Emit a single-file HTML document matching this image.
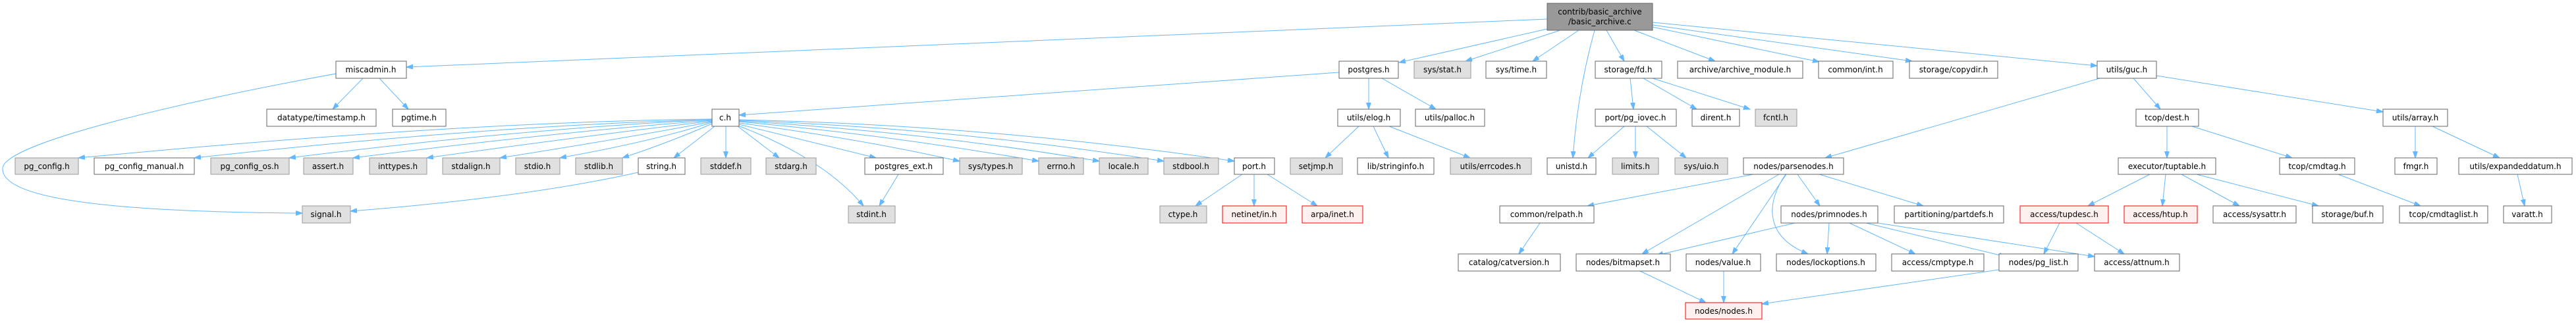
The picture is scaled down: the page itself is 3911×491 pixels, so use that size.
<!DOCTYPE html>
<html><head><meta charset="utf-8">
<style>
html,body{margin:0;padding:0;background:#fff;}
svg{display:block;}
text{font-family:"DejaVu Sans","Liberation Sans",sans-serif;font-size:12px;fill:#000;text-anchor:middle;}
.w{fill:#fff;stroke:#666;stroke-width:1;}
.g{fill:#e0e0e0;stroke:#999;stroke-width:1;}
.r{fill:#fff0f0;stroke:#f00;stroke-width:1;}
.m{fill:#999;stroke:#666;stroke-width:1;}
.e{fill:none;stroke:#63b8ff;stroke-width:1;marker-end:url(#a);}
</style></head><body>
<svg width="3911" height="491" viewBox="0 0 3911 491" xmlns="http://www.w3.org/2000/svg">
<defs><marker id="a" markerUnits="userSpaceOnUse" markerWidth="11" markerHeight="8" refX="10" refY="3.5" orient="auto"><path d="M0,0 L10,3.5 L0,7 z" fill="#63b8ff" stroke="#63b8ff"/></marker></defs>

<!-- edges -->
<path class="e" d="M2349,29 L617,102"/>
<path class="e" d="M2349,44 L2124,95"/>
<path class="e" d="M2372,45 L2225,93"/>
<path class="e" d="M2397,46 L2327,93"/>
<path class="e" d="M2421,46 Q2395,140 2388,240"/>
<path class="e" d="M2439,46 L2466,93"/>
<path class="e" d="M2481,46 L2604,93"/>
<path class="e" d="M2509,41 L2762,94"/>
<path class="e" d="M2509,38 L2903,93"/>
<path class="e" d="M2509,34 L3184,100"/>

<path class="e" d="M551,119 L505,166"/>
<path class="e" d="M576,119 L620,166"/>
<path class="e" d="M510,112 C300,150 10,215 4,255 C0,300 150,322 459,324"/>

<path class="e" d="M2033,110 L1122,175"/>
<path class="e" d="M2078,119 L2078,166"/>
<path class="e" d="M2098,119 L2180,166"/>

<path class="e" d="M1081,181 Q700,185 119,240"/>
<path class="e" d="M1081,182 Q750,190 295,240"/>
<path class="e" d="M1081,182 Q800,195 439,240"/>
<path class="e" d="M1081,183 Q850,200 536,240"/>
<path class="e" d="M1081,184 Q900,205 648,240"/>
<path class="e" d="M1081,185 Q950,210 759,240"/>
<path class="e" d="M1081,186 Q990,215 850,240"/>
<path class="e" d="M1081,188 Q1020,215 945,240"/>
<path class="e" d="M1085,192 L1023,240"/>
<path class="e" d="M1102,192 L1102,240"/>
<path class="e" d="M1120,192 L1183,240"/>
<path class="e" d="M1118,190 Q1250,240 1311,313"/>
<path class="e" d="M1122,189 L1330,240"/>
<path class="e" d="M1122,187 Q1300,210 1457,245"/>
<path class="e" d="M1122,185 Q1350,205 1577,245"/>
<path class="e" d="M1122,184 Q1400,200 1669,245"/>
<path class="e" d="M1122,183 Q1450,195 1767,245"/>
<path class="e" d="M1122,182 Q1500,190 1874,245"/>

<path class="e" d="M969,262 Q800,300 532,321"/>
<path class="e" d="M1364,265 L1335,313"/>
<path class="e" d="M1886,265 L1815,313"/>
<path class="e" d="M1904,265 L1904,313"/>
<path class="e" d="M1924,265 L2000,313"/>

<path class="e" d="M2063,192 L2012,240"/>
<path class="e" d="M2085,192 L2108,240"/>
<path class="e" d="M2109,192 L2232,240"/>
<path class="e" d="M2475,119 L2480,166"/>
<path class="e" d="M2495,119 L2576,166"/>
<path class="e" d="M2509,119 L2657,166"/>
<path class="e" d="M2466,192 L2411,240"/>
<path class="e" d="M2483,192 L2483,240"/>
<path class="e" d="M2500,192 L2560,240"/>

<path class="e" d="M3188,119 L2771,240"/>
<path class="e" d="M3239,119 L3280,166"/>
<path class="e" d="M3274,115 L3618,170"/>

<path class="e" d="M2662,265 L2410,313"/>
<path class="e" d="M2701,265 L2493,386"/>
<path class="e" d="M2712,265 L2630,386"/>
<path class="e" d="M2711,265 C2680,310 2680,360 2745,386"/>
<path class="e" d="M2729,265 L2763,313"/>
<path class="e" d="M2762,265 L2920,313"/>
<path class="e" d="M2338,339 L2306,386"/>
<path class="e" d="M2725,339 L2515,388"/>
<path class="e" d="M2777,339 L2774,386"/>
<path class="e" d="M2808,339 L2908,386"/>
<path class="e" d="M2833,339 L3045,390"/>
<path class="e" d="M2851,339 L3180,390"/>
<path class="e" d="M2490,412 L2590,460"/>
<path class="e" d="M2617,412 L2617,460"/>
<path class="e" d="M3035,410 L2675,462"/>

<path class="e" d="M3290,192 L3290,240"/>
<path class="e" d="M3328,192 L3480,240"/>
<path class="e" d="M3667,192 L3667,240"/>
<path class="e" d="M3693,192 L3795,240"/>
<path class="e" d="M3264,265 L3170,313"/>
<path class="e" d="M3288,265 L3283,313"/>
<path class="e" d="M3312,265 L3400,313"/>
<path class="e" d="M3335,265 L3520,313"/>
<path class="e" d="M3550,265 L3675,313"/>
<path class="e" d="M3822,265 L3833,313"/>
<path class="e" d="M3127,339 L3103,386"/>
<path class="e" d="M3152,339 L3225,386"/>

<!-- nodes -->
<rect class="m" x="2349" y="5" width="160" height="41"/><text x="2429" y="22">contrib/basic_archive</text><text x="2429" y="37">/basic_archive.c</text>

<!-- row1 -->
<rect class="w" x="510" y="93" width="107" height="26"/><text x="563" y="110">miscadmin.h</text>
<rect class="w" x="2033" y="93" width="90" height="26"/><text x="2078" y="110">postgres.h</text>
<rect class="g" x="2147" y="93" width="86" height="26"/><text x="2190" y="110">sys/stat.h</text>
<rect class="w" x="2256" y="93" width="92" height="26"/><text x="2302" y="110">sys/time.h</text>
<rect class="w" x="2422" y="93" width="101" height="26"/><text x="2472" y="110">storage/fd.h</text>
<rect class="w" x="2547" y="93" width="190" height="26"/><text x="2642" y="110">archive/archive_module.h</text>
<rect class="w" x="2761" y="93" width="113" height="26"/><text x="2817" y="110">common/int.h</text>
<rect class="w" x="2899" y="93" width="134" height="26"/><text x="2966" y="110">storage/copydir.h</text>
<rect class="w" x="3184" y="93" width="90" height="26"/><text x="3229" y="110">utils/guc.h</text>

<!-- row2 -->
<rect class="w" x="405" y="166" width="166" height="26"/><text x="488" y="183">datatype/timestamp.h</text>
<rect class="w" x="596" y="166" width="81" height="26"/><text x="636" y="183">pgtime.h</text>
<rect class="w" x="1081" y="166" width="41" height="26"/><text x="1101" y="183">c.h</text>
<rect class="w" x="2031" y="166" width="95" height="26"/><text x="2078" y="183">utils/elog.h</text>
<rect class="w" x="2149" y="166" width="105" height="26"/><text x="2201" y="183">utils/palloc.h</text>
<rect class="w" x="2422" y="166" width="123" height="26"/><text x="2483" y="183">port/pg_iovec.h</text>
<rect class="w" x="2569" y="166" width="72" height="26"/><text x="2605" y="183">dirent.h</text>
<rect class="g" x="2665" y="166" width="63" height="26"/><text x="2696" y="183">fcntl.h</text>
<rect class="w" x="3243" y="166" width="95" height="26"/><text x="3290" y="183">tcop/dest.h</text>
<rect class="w" x="3618" y="166" width="98" height="26"/><text x="3667" y="183">utils/array.h</text>

<!-- row3 -->
<rect class="g" x="23" y="240" width="96" height="25"/><text x="71" y="257">pg_config.h</text>
<rect class="w" x="143" y="240" width="152" height="25"/><text x="219" y="257">pg_config_manual.h</text>
<rect class="g" x="320" y="240" width="119" height="25"/><text x="379" y="257">pg_config_os.h</text>
<rect class="g" x="461" y="240" width="75" height="25"/><text x="498" y="257">assert.h</text>
<rect class="g" x="561" y="240" width="87" height="25"/><text x="604" y="257">inttypes.h</text>
<rect class="g" x="672" y="240" width="87" height="25"/><text x="715" y="257">stdalign.h</text>
<rect class="g" x="783" y="240" width="67" height="25"/><text x="816" y="257">stdio.h</text>
<rect class="g" x="874" y="240" width="71" height="25"/><text x="909" y="257">stdlib.h</text>
<rect class="w" x="969" y="240" width="71" height="25"/><text x="1004" y="257">string.h</text>
<rect class="g" x="1064" y="240" width="76" height="25"/><text x="1102" y="257">stddef.h</text>
<rect class="g" x="1163" y="240" width="76" height="25"/><text x="1201" y="257">stdarg.h</text>
<rect class="w" x="1313" y="240" width="119" height="25"/><text x="1372" y="257">postgres_ext.h</text>
<rect class="g" x="1457" y="240" width="95" height="25"/><text x="1504" y="257">sys/types.h</text>
<rect class="g" x="1577" y="240" width="68" height="25"/><text x="1611" y="257">errno.h</text>
<rect class="g" x="1669" y="240" width="74" height="25"/><text x="1706" y="257">locale.h</text>
<rect class="g" x="1767" y="240" width="83" height="25"/><text x="1808" y="257">stdbool.h</text>
<rect class="w" x="1874" y="240" width="61" height="25"/><text x="1904" y="257">port.h</text>
<rect class="g" x="1959" y="240" width="79" height="25"/><text x="1998" y="257">setjmp.h</text>
<rect class="w" x="2061" y="240" width="116" height="25"/><text x="2119" y="257">lib/stringinfo.h</text>
<rect class="g" x="2202" y="240" width="123" height="25"/><text x="2263" y="257">utils/errcodes.h</text>
<rect class="w" x="2349" y="240" width="74" height="25"/><text x="2386" y="257">unistd.h</text>
<rect class="g" x="2448" y="240" width="70" height="25"/><text x="2483" y="257">limits.h</text>
<rect class="g" x="2543" y="240" width="80" height="25"/><text x="2583" y="257">sys/uio.h</text>
<rect class="w" x="2647" y="240" width="152" height="25"/><text x="2723" y="257">nodes/parsenodes.h</text>
<rect class="w" x="3216" y="240" width="148" height="25"/><text x="3290" y="257">executor/tuptable.h</text>
<rect class="w" x="3461" y="240" width="114" height="25"/><text x="3518" y="257">tcop/cmdtag.h</text>
<rect class="w" x="3636" y="240" width="64" height="25"/><text x="3668" y="257">fmgr.h</text>
<rect class="w" x="3733" y="240" width="172" height="25"/><text x="3819" y="257">utils/expandeddatum.h</text>

<!-- row4 -->
<rect class="g" x="459" y="313" width="73" height="26"/><text x="495" y="330">signal.h</text>
<rect class="g" x="1288" y="313" width="71" height="26"/><text x="1323" y="330">stdint.h</text>
<rect class="g" x="1761" y="313" width="71" height="26"/><text x="1796" y="330">ctype.h</text>
<rect class="r" x="1856" y="313" width="97" height="26"/><text x="1904" y="330">netinet/in.h</text>
<rect class="r" x="1977" y="313" width="92" height="26"/><text x="2023" y="330">arpa/inet.h</text>
<rect class="w" x="2277" y="313" width="143" height="26"/><text x="2348" y="330">common/relpath.h</text>
<rect class="w" x="2704" y="313" width="147" height="26"/><text x="2777" y="330">nodes/primnodes.h</text>
<rect class="w" x="2876" y="313" width="166" height="26"/><text x="2959" y="330">partitioning/partdefs.h</text>
<rect class="r" x="3067" y="313" width="134" height="26"/><text x="3134" y="330">access/tupdesc.h</text>
<rect class="r" x="3225" y="313" width="111" height="26"/><text x="3280" y="330">access/htup.h</text>
<rect class="w" x="3360" y="313" width="126" height="26"/><text x="3423" y="330">access/sysattr.h</text>
<rect class="w" x="3511" y="313" width="107" height="26"/><text x="3564" y="330">storage/buf.h</text>
<rect class="w" x="3643" y="313" width="134" height="26"/><text x="3710" y="330">tcop/cmdtaglist.h</text>
<rect class="w" x="3801" y="313" width="73" height="26"/><text x="3837" y="330">varatt.h</text>

<!-- row5 -->
<rect class="w" x="2214" y="386" width="155" height="26"/><text x="2291" y="403">catalog/catversion.h</text>
<rect class="w" x="2393" y="386" width="143" height="26"/><text x="2464" y="403">nodes/bitmapset.h</text>
<rect class="w" x="2560" y="386" width="113" height="26"/><text x="2616" y="403">nodes/value.h</text>
<rect class="w" x="2697" y="386" width="151" height="26"/><text x="2772" y="403">nodes/lockoptions.h</text>
<rect class="w" x="2872" y="386" width="140" height="26"/><text x="2942" y="403">access/cmptype.h</text>
<rect class="w" x="3035" y="386" width="120" height="26"/><text x="3095" y="403">nodes/pg_list.h</text>
<rect class="w" x="3180" y="386" width="129" height="26"/><text x="3244" y="403">access/attnum.h</text>

<!-- row6 -->
<rect class="r" x="2559" y="460" width="116" height="25"/><text x="2617" y="477">nodes/nodes.h</text>
</svg>
</body></html>
